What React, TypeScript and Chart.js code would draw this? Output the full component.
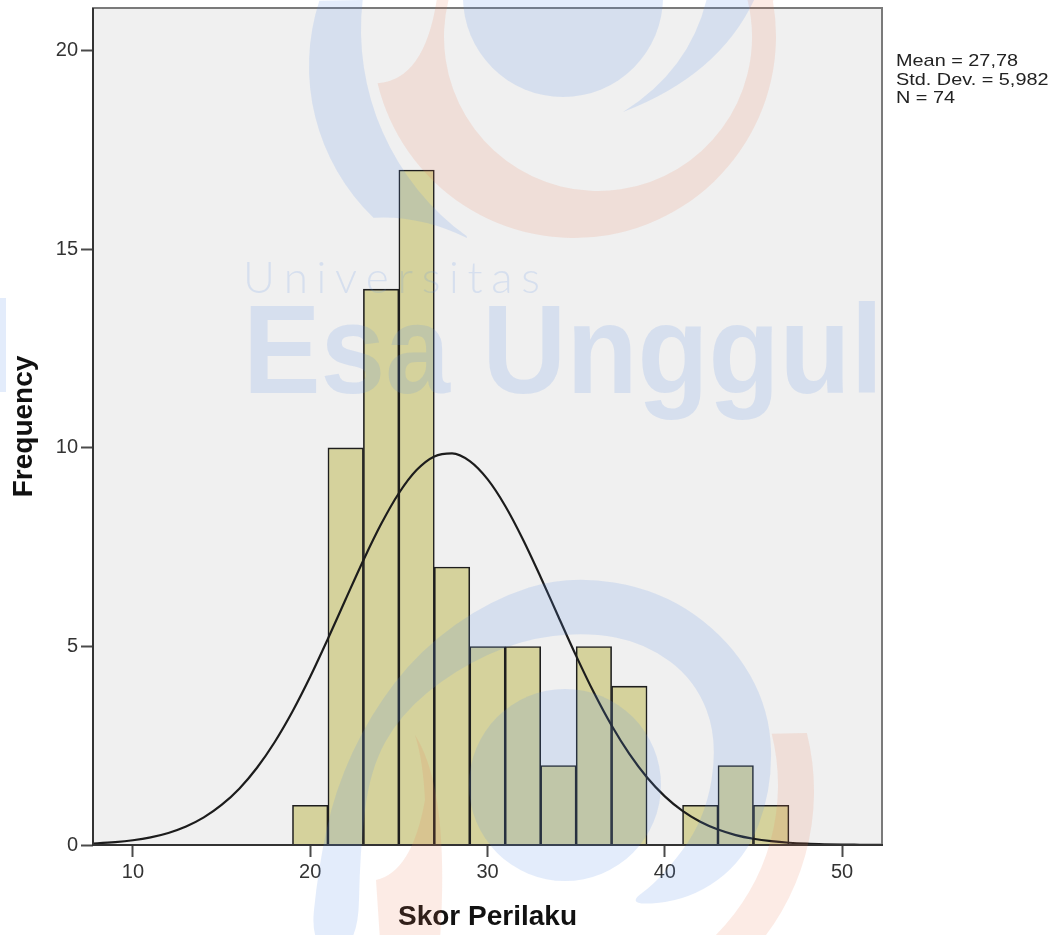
import React, { useEffect, useRef } from 'react';
import { Chart, registerables } from 'chart.js';

Chart.register(...registerables);

// ---- data ----
const binCenters = [20, 22, 24, 26, 28, 30, 32, 34, 36, 38, 40, 42, 44, 46];
const frequencies = [1, 10, 14, 17, 7, 5, 5, 2, 5, 4, 0, 1, 2, 1];
const curveX = [7, 8, 9, 10, 11, 12, 13, 14, 15, 16, 17, 18, 19, 20, 21, 22, 23, 24, 25, 26, 27, 28, 29, 30, 31, 32, 33, 34, 35, 36, 37, 38, 39, 40, 41, 42, 43, 44, 45, 46, 47, 48, 49, 50, 51, 52, 53];
const curveY = [0.024, 0.042, 0.071, 0.119, 0.193, 0.304, 0.466, 0.695, 1.008, 1.419, 1.946, 2.595, 3.362, 4.236, 5.193, 6.188, 7.173, 8.083, 8.859, 9.442, 9.786, 9.863, 9.667, 9.213, 8.539, 7.696, 6.745, 5.749, 4.764, 3.839, 3.009, 2.294, 1.7, 1.225, 0.859, 0.585, 0.388, 0.25, 0.157, 0.096, 0.057, 0.033, 0.019, 0.01, 0.006, 0.003, 0.001];
const xTicks = [10, 20, 30, 40, 50];
const yTicks = [0, 5, 10, 15, 20];
const statsLines = ['Mean = 27,78', 'Std. Dev. = 5,982', 'N = 74'];
const xTitle = 'Skor Perilaku';
const yTitle = 'Frequency';
const watermarkSmall = 'Universitas';
const watermarkBig = 'Esa Unggul';

const FAMILY = "'Liberation Sans', Arial, sans-serif";
const D = Math.PI / 180;

function smoothClosed(ctx: CanvasRenderingContext2D, pts: number[][]) {
  const n = pts.length;
  const mid = (a: number[], b: number[]) => [(a[0] + b[0]) / 2, (a[1] + b[1]) / 2];
  const m0 = mid(pts[n - 1], pts[0]);
  ctx.beginPath();
  ctx.moveTo(m0[0], m0[1]);
  for (let i = 0; i < n; i++) {
    const p = pts[i];
    const m = mid(p, pts[(i + 1) % n]);
    ctx.quadraticCurveTo(p[0], p[1], m[0], m[1]);
  }
  ctx.closePath();
}

const framePlugin = {
  id: 'frame',
  beforeDraw(chart: any) {
    const { ctx, chartArea: a } = chart;
    ctx.save();
    ctx.fillStyle = '#f0f0f0';
    ctx.fillRect(a.left, a.top, a.right - a.left, a.bottom - a.top);
    ctx.restore();
  },
  afterDatasetsDraw(chart: any) {
    const { ctx, chartArea: a } = chart;
    ctx.save();
    ctx.lineWidth = 2;
    ctx.strokeStyle = '#7a7a7a';
    ctx.beginPath();
    ctx.moveTo(a.left - 1, a.top);
    ctx.lineTo(a.right + 1, a.top);
    ctx.moveTo(a.right, a.top);
    ctx.lineTo(a.right, a.bottom);
    ctx.stroke();
    ctx.strokeStyle = '#333333';
    ctx.beginPath();
    ctx.moveTo(a.left, a.top);
    ctx.lineTo(a.left, a.bottom + 1);
    ctx.moveTo(a.left - 1, a.bottom);
    ctx.lineTo(a.right + 1, a.bottom);
    ctx.stroke();
    ctx.restore();
  },
  afterDraw(chart: any) {
    const ctx: CanvasRenderingContext2D = chart.ctx;
    const a = chart.chartArea;
    ctx.save();
    // stats text
    ctx.font = `17px ${FAMILY}`;
    ctx.fillStyle = '#222';
    ctx.textBaseline = 'alphabetic';
    const w0 = ctx.measureText(statsLines[0]).width;
    const sx = 122 / w0;
    statsLines.forEach((t, k) => {
      ctx.save();
      ctx.translate(a.right + 14, 66 + k * 18.5);
      ctx.scale(sx, 1);
      ctx.fillText(t, 0, 0);
      ctx.restore();
    });

    // ---- watermark ----
    const blue = 'rgba(90,140,230,0.17)';
    const orange = 'rgba(235,120,80,0.15)';

    // top logo: disc
    ctx.fillStyle = blue;
    ctx.beginPath();
    ctx.arc(563, -3, 100, 0, Math.PI * 2);
    ctx.fill();
    // top logo: orange crescent
    ctx.fillStyle = orange;
    ctx.beginPath();
    ctx.moveTo(437, -2);
    ctx.arc(598, 37, 154, 194 * D, -14 * D, true);
    ctx.lineTo(775, -2);
    ctx.arc(574, 36, 202, -10 * D, 166.5 * D, false);
    ctx.quadraticCurveTo(425, 80, 437, -2);
    ctx.closePath();
    ctx.fill();
    // top logo: blue left crescent
    ctx.fillStyle = blue;
    ctx.beginPath();
    ctx.arc(520, 66, 211, 198 * D, 134 * D, true);
    ctx.quadraticCurveTo(420, 215, 467, 238);
    ctx.arc(617, 29, 256, 126 * D, 186.5 * D, false);
    ctx.closePath();
    ctx.fill();
    // top logo: thin right crescent
    ctx.beginPath();
    ctx.moveTo(707, -2);
    ctx.quadraticCurveTo(690, 70, 623, 112);
    ctx.quadraticCurveTo(720, 75, 755, -2);
    ctx.closePath();
    ctx.fill();

    // bottom logo: disc
    ctx.beginPath();
    ctx.arc(565, 785, 96, 0, Math.PI * 2);
    ctx.fill();
    // bottom logo: spiral ring
    smoothClosed(ctx, [
      [310, 950], [318, 870], [335, 790], [370, 715], [420, 650], [490, 600], [568, 575],
      [660, 590], [730, 640], [770, 710], [772, 790], [745, 860], [690, 900], [624, 906],
      [660, 880], [705, 820], [718, 740], [695, 680], [645, 643], [586, 632], [520, 640],
      [455, 670], [400, 715], [370, 770], [360, 850], [358, 950],
    ]);
    ctx.fill();
    // bottom logo: orange horn (left)
    ctx.fillStyle = orange;
    ctx.beginPath();
    ctx.moveTo(415, 735);
    ctx.quadraticCurveTo(450, 790, 440, 940);
    ctx.lineTo(380, 940);
    ctx.lineTo(376, 880);
    ctx.quadraticCurveTo(412, 872, 425, 800);
    ctx.quadraticCurveTo(423, 760, 415, 735);
    ctx.closePath();
    ctx.fill();
    // bottom logo: orange crescent (right)
    ctx.beginPath();
    ctx.arc(574, 791, 240, -14 * D, 45 * D, false);
    ctx.arc(566, 785, 212, 45 * D, -14 * D, true);
    ctx.closePath();
    ctx.fill();
    // left edge fragment
    ctx.fillStyle = blue;
    ctx.fillRect(0, 298, 6, 94);

    // text watermark
    ctx.fillStyle = blue;
    ctx.font = `300 44px Lato, 'Noto Sans', sans-serif`;
    const chars = watermarkSmall.split('');
    const widths = chars.map((c) => ctx.measureText(c).width);
    const natural = widths.reduce((s, v) => s + v, 0);
    const gap = (297 - natural) / (chars.length - 1);
    let cx = 243;
    chars.forEach((c, k) => {
      ctx.fillText(c, cx, 293);
      cx += widths[k] + gap;
    });
    ctx.font = `bold 126px ${FAMILY}`;
    const wb = ctx.measureText(watermarkBig).width;
    ctx.save();
    ctx.translate(243, 393);
    ctx.scale(640 / wb, 1);
    ctx.fillText(watermarkBig, 0, 0);
    ctx.restore();

    ctx.restore();
  },
};

export default function App() {
  const ref = useRef<HTMLCanvasElement>(null);
  useEffect(() => {
    const canvas = ref.current!;
    const chart = new Chart(canvas, {
      type: 'bar',
      data: {
        datasets: [
          {
            type: 'line',
            data: curveX.map((x, i) => ({ x, y: curveY[i] })),
            borderColor: '#1c1c1c',
            borderWidth: 2.2,
            pointRadius: 0,
            cubicInterpolationMode: 'monotone',
            fill: false,
            order: 0,
          } as any,
          {
            type: 'bar',
            data: binCenters.map((x, i) => ({ x, y: frequencies[i] })),
            backgroundColor: '#d5d29c',
            borderColor: '#1e1e1e',
            borderWidth: 1.6,
            barPercentage: 1,
            categoryPercentage: 1,
            order: 1,
          } as any,
        ],
      },
      options: {
        responsive: false,
        animation: false,
        devicePixelRatio: 1,
        layout: { padding: { left: 0, top: 8, right: 179, bottom: 0 } },
        plugins: { legend: { display: false }, tooltip: { enabled: false } },
        scales: {
          x: {
            type: 'linear',
            min: 7.75,
            max: 52.25,
            offset: false,
            afterBuildTicks: (s: any) => {
              s.ticks = xTicks.map((v) => ({ value: v }));
            },
            afterFit: (s: any) => {
              s.height = 90;
              s.paddingLeft = 0;
              s.paddingRight = 0;
            },
            grid: {
              display: true,
              drawOnChartArea: false,
              drawTicks: true,
              tickLength: 12,
              tickWidth: 2,
              tickColor: '#4a4a4a',
              offset: false,
            },
            border: { display: false },
            ticks: {
              font: { family: FAMILY, size: 20 },
              color: '#333',
              padding: 3,
              maxRotation: 0,
              autoSkip: false,
            },
            title: {
              display: true,
              text: xTitle,
              font: { family: FAMILY, size: 28, weight: 'bold' },
              color: '#111',
              padding: { top: 0, bottom: 1 },
            },
          },
          y: {
            type: 'linear',
            min: 0,
            max: 21.08,
            afterBuildTicks: (s: any) => {
              s.ticks = yTicks.map((v) => ({ value: v }));
            },
            afterFit: (s: any) => {
              s.width = 93;
              s.paddingTop = 0;
              s.paddingBottom = 0;
            },
            grid: {
              display: true,
              drawOnChartArea: false,
              drawTicks: true,
              tickLength: 12,
              tickWidth: 2,
              tickColor: '#4a4a4a',
            },
            border: { display: false },
            ticks: {
              font: { family: FAMILY, size: 20 },
              color: '#333',
              padding: 3,
            },
            title: {
              display: true,
              text: yTitle,
              font: { family: FAMILY, size: 28, weight: 'bold' },
              color: '#111',
              padding: { top: 7, bottom: 0 },
            },
          },
        },
      } as any,
      plugins: [framePlugin],
    });
    return () => chart.destroy();
  }, []);

  return (
    <div style={{ position: 'fixed', left: 0, top: 0, width: 1061, height: 935, background: '#fff' }}>
      <canvas ref={ref} width={1061} height={935} style={{ width: 1061, height: 935, display: 'block' }} />
    </div>
  );
}
